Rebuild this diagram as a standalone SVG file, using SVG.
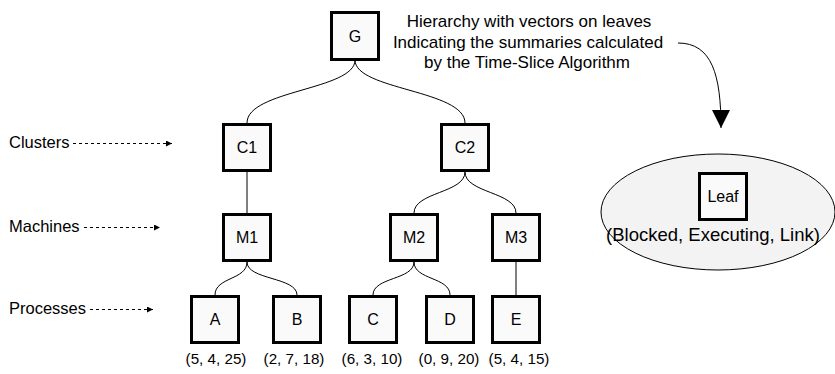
<svg xmlns="http://www.w3.org/2000/svg" width="835" height="374" viewBox="0 0 835 374">
<style>
  text { font-family: "Liberation Sans", Arial, sans-serif; fill: #000; }
  .box { fill: #fafafa; stroke: #000; stroke-width: 3; }
  .lbl { font-size: 16px; text-anchor: middle; }
  .tup { font-size: 15.2px; text-anchor: middle; }
  .side { font-size: 16.5px; }
  .title { font-size: 17px; text-anchor: middle; }
  .edge { fill: none; stroke: #000; stroke-width: 1; }
  .dash { fill: none; stroke: #000; stroke-width: 1; stroke-dasharray: 3,3; marker-end: url(#small); }
</style>
<defs>
  <marker id="small" viewBox="0 0 10 10" refX="10" refY="5" markerWidth="9" markerHeight="6" markerUnits="userSpaceOnUse" orient="auto">
    <path d="M0,0 L10,5 L0,10 z" fill="#000"/>
  </marker>
  <marker id="big" viewBox="0 0 10 10" refX="10" refY="5" markerWidth="26" markerHeight="18" markerUnits="userSpaceOnUse" orient="auto">
    <path d="M0,0 L10,5 L0,10 z" fill="#000"/>
  </marker>
</defs>

<g id="title">
  <text class="title" x="529" y="27">Hierarchy with vectors on leaves</text>
  <text class="title" x="528" y="48">Indicating the summaries calculated</text>
  <text class="title" x="527" y="68">by the Time-Slice Algorithm</text>
</g>

<g id="side-labels">
  <text class="side" x="9" y="148">Clusters</text>
  <text class="side" x="9" y="232">Machines</text>
  <text class="side" x="9" y="314">Processes</text>
</g>

<g id="connectors">
  <path class="edge" d="M355,60 C355,90 247,90 247,123"/>
  <path class="edge" d="M355,60 C355,90 465,90 465,123"/>
  <path class="edge" d="M247,172 L247,213"/>
  <path class="edge" d="M465,172 C465,193 414,192 414,213"/>
  <path class="edge" d="M465,172 C465,193 516,192 516,213"/>
  <path class="edge" d="M247,262 C247,280 215,277 215,295"/>
  <path class="edge" d="M247,262 C247,280 297,277 297,295"/>
  <path class="edge" d="M414,262 C414,280 373,277 373,295"/>
  <path class="edge" d="M414,262 C414,280 450,277 450,295"/>
  <path class="edge" d="M516,262 L516,295"/>
  <path class="dash" d="M73,143.5 L172,143.5"/>
  <path class="dash" d="M84,227.5 L160,227.5"/>
  <path class="dash" d="M90,309.5 L153,309.5"/>
  <path class="edge" d="M678,43 C712,43 721,75 721,128" marker-end="url(#big)"/>
</g>

<g id="node-G"><rect class="box" x="331.5" y="12.5" width="47" height="47"/><text class="lbl" x="355" y="42">G</text></g>
<g id="node-C1"><rect class="box" x="223.5" y="124.5" width="47" height="46"/><text class="lbl" x="247" y="153">C1</text></g>
<g id="node-C2"><rect class="box" x="441.5" y="124.5" width="47" height="46"/><text class="lbl" x="465" y="153">C2</text></g>
<g id="node-M1"><rect class="box" x="223.5" y="214.5" width="47" height="46"/><text class="lbl" x="247" y="243">M1</text></g>
<g id="node-M2"><rect class="box" x="390.5" y="214.5" width="47" height="46"/><text class="lbl" x="414" y="243">M2</text></g>
<g id="node-M3"><rect class="box" x="492.5" y="214.5" width="47" height="46"/><text class="lbl" x="516" y="243">M3</text></g>
<g id="node-A"><rect class="box" x="191.5" y="296.5" width="47" height="46"/><text class="lbl" x="215" y="325">A</text><text class="tup" x="216" y="364">(5, 4, 25)</text></g>
<g id="node-B"><rect class="box" x="273.5" y="296.5" width="47" height="46"/><text class="lbl" x="297" y="325">B</text><text class="tup" x="294" y="364">(2, 7, 18)</text></g>
<g id="node-C"><rect class="box" x="349.5" y="296.5" width="47" height="46"/><text class="lbl" x="373" y="325">C</text><text class="tup" x="372" y="364">(6, 3, 10)</text></g>
<g id="node-D"><rect class="box" x="426.5" y="296.5" width="47" height="46"/><text class="lbl" x="450" y="325">D</text><text class="tup" x="449" y="364">(0, 9, 20)</text></g>
<g id="node-E"><rect class="box" x="492.5" y="296.5" width="47" height="46"/><text class="lbl" x="516" y="325">E</text><text class="tup" x="519" y="364">(5, 4, 15)</text></g>

<g id="node-legend">
  <ellipse cx="718" cy="212" rx="117" ry="58" fill="#f3f3f3" stroke="#000" stroke-width="1"/>
  <rect class="box" x="699.5" y="173.5" width="47" height="46"/>
  <text class="lbl" x="723" y="202">Leaf</text>
  <text x="713" y="241" style="font-size:18.5px;text-anchor:middle">(Blocked, Executing, Link)</text>
</g>
</svg>
